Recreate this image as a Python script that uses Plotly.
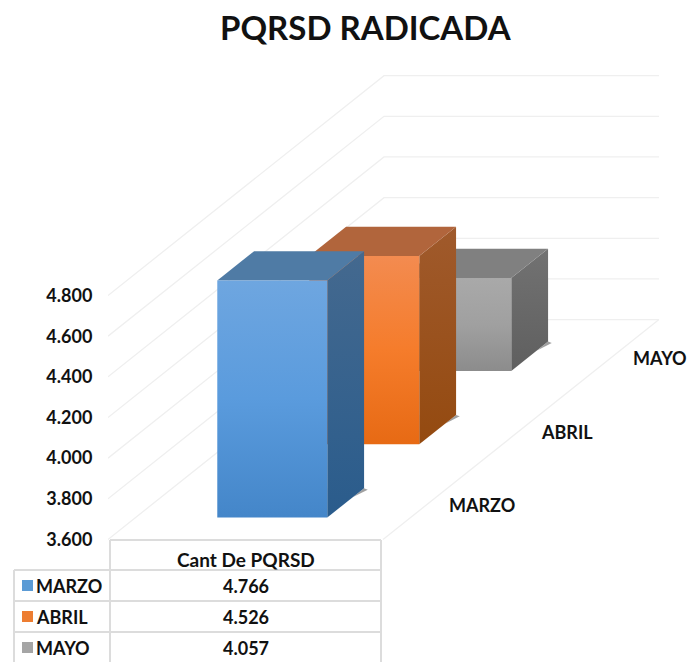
import plotly.graph_objects as go

# ---- data ----
categories = ["MARZO", "ABRIL", "MAYO"]
values = [4766, 4526, 4057]
series_name = "Cant De PQRSD"
title_text = "PQRSD RADICADA"
y_ticks = [3600, 3800, 4000, 4200, 4400, 4600, 4800]

front_colors = [["#6ea6e0", "#5a9bdd", "#4486c9"], ["#f38b50", "#f57c2b", "#e76a14"], ["#a9a9a9", "#a0a0a0", "#8c8c8c"]]
side_colors = [["#44698f", "#2a5c8c"], ["#a05a2c", "#944a10"], ["#727272", "#5f5f5f"]]
top_colors = ["#4f7ba5", "#b1653c", "#808080"]
key_colors = ["#5b9bd5", "#ed7d31", "#a5a5a5"]
grid_color = "#efefef"
table_color = "#dcdcdc"
shadow_color = "#a0a0a0"
text_color = "#111111"
font = "Lato"

# ---- figure frame and oblique projection ----
W, H = 693, 662
axis_px = 108          # pixel of the front-left axis
unit_px = 275          # pixels per unit of category-plane width
base_px = 539.5        # pixel row of the axis minimum
v_px = 0.2033          # pixels per value unit
depth_dx_px = 92       # per category of depth
depth_dy_px = 73.3
ymin_plot = y_ticks[0] - (H - base_px) / v_px
ymax_plot = y_ticks[0] + base_px / v_px
xmax_plot = (W - axis_px) / unit_px
dx = depth_dx_px / unit_px
dy = depth_dy_px / v_px
bar_left, bar_right = 0.297, 0.697   # bar extent in width units
bar_depth = 0.40       # bar depth in category units


def project(x, v, d):
    return x + d * dx, v + d * dy


def poly(points, gradient=None, color=None):
    xs, ys = zip(*[project(*p) for p in points + points[:1]])
    kw = dict(x=xs, y=ys, mode="lines", line=dict(width=0), fill="toself", hoverinfo="skip", showlegend=False)
    if gradient:
        n = len(gradient) - 1
        kw["fillgradient"] = dict(type="vertical", colorscale=[[i / n, c] for i, c in enumerate(reversed(gradient))])
    else:
        kw["fillcolor"] = color
    return go.Scatter(**kw)


fig = go.Figure()

# walls and floor
n_cat = len(categories)
for v in y_ticks:
    xs, ys = zip(project(0, v, 0), project(0, v, n_cat), project(1, v, n_cat))
    fig.add_trace(go.Scatter(x=xs, y=ys, mode="lines", line=dict(color=grid_color, width=1.3), hoverinfo="skip", showlegend=False))
xs, ys = zip(project(1, y_ticks[0], 0), project(1, y_ticks[0], n_cat))
fig.add_trace(go.Scatter(x=xs, y=ys, mode="lines", line=dict(color=grid_color, width=1.3), hoverinfo="skip", showlegend=False))

# bars, back to front
low = y_ticks[0]
for i in reversed(range(n_cat)):
    v = values[i]
    d0 = i + 0.5 - bar_depth / 2
    d1 = i + 0.5 + bar_depth / 2
    x0, x1 = bar_left, bar_right
    fig.add_trace(poly([(x1, low, d1 - 0.12), (x1, low, d1), (x1 + 0.02, low, d1 - 0.02)], color=shadow_color))
    fig.add_trace(poly([(x1, low, d0), (x1, low, d1), (x1, v, d1), (x1, v, d0)], gradient=side_colors[i]))
    fig.add_trace(poly([(x0, v, d0), (x1, v, d0), (x1, v, d1), (x0, v, d1)], color=top_colors[i]))
    fig.add_trace(poly([(x0, low, d0), (x1, low, d0), (x1, v, d0), (x0, v, d0)], gradient=front_colors[i]))


def fmt(v):
    return f"{v:,}".replace(",", ".")


annotations = []
for i, c in enumerate(categories):
    x, y = project(1, low, i + 0.5)
    annotations.append(dict(x=x, y=y, xref="x", yref="y", text=c, showarrow=False, xanchor="left", xshift=18, yshift=-2,
                            font=dict(family=font, size=18, color=text_color, weight="bold")))


def px(x):
    return x / W


def py(y):
    return 1 - y / H


# data table
col0, col1, col2 = 14, 110, 381
head_top, rows = 540, [570, 601, 632, 663]
shapes = []


def line(x0, y0, x1, y1):
    shapes.append(dict(type="line", xref="paper", yref="paper", x0=px(x0), y0=py(y0), x1=px(x1), y1=py(y1),
                       line=dict(color=table_color, width=2)))


line(col1, head_top, col2, head_top)
line(col1, head_top, col1, H)
line(col2, head_top, col2, H)
line(col0, rows[0], col0, H)
for r in rows[:3]:
    line(col0, r, col2, r)


def cell(x, y, text, anchor="center", size=18):
    annotations.append(dict(x=px(x), y=py(y), xref="paper", yref="paper", text=text, showarrow=False, xanchor=anchor, yanchor="middle",
                            font=dict(family=font, size=size, color=text_color, weight="bold")))


cell((col1 + col2) / 2 + 0.5, 559, series_name, size=19)
for i, c in enumerate(categories):
    mid = (rows[i] + rows[i + 1]) / 2
    shapes.append(dict(type="rect", xref="paper", yref="paper", x0=px(22), x1=px(33), y0=py(mid - 5.5), y1=py(mid + 5.5),
                       line=dict(width=0), fillcolor=key_colors[i]))
    cell(34, mid, c, "left")
    cell((col1 + col2) / 2, mid, fmt(values[i]))

annotations.append(dict(x=px(366), y=py(27), xref="paper", yref="paper", text=title_text, showarrow=False,
                        xanchor="center", yanchor="middle", font=dict(family=font, size=33, color=text_color, weight="bold")))

fig.update_layout(
    width=W, height=H, margin=dict(l=0, r=0, t=0, b=0), paper_bgcolor="white", plot_bgcolor="white",
    showlegend=False, annotations=annotations, shapes=shapes,
    xaxis=dict(domain=[axis_px / W, 1], range=[0, xmax_plot], visible=False, fixedrange=True),
    yaxis=dict(domain=[0, 1], range=[ymin_plot, ymax_plot], tickvals=y_ticks, ticktext=[fmt(t) for t in y_ticks],
               ticks="outside", ticklen=11, tickcolor="rgba(0,0,0,0)", showgrid=False, zeroline=False, showline=False,
               tickfont=dict(family=font, size=18, color=text_color, weight="bold"), fixedrange=True),
)
fig.write_html("out.html", config={"displayModeBar": False}, post_script="document.body.style.margin='0';")
